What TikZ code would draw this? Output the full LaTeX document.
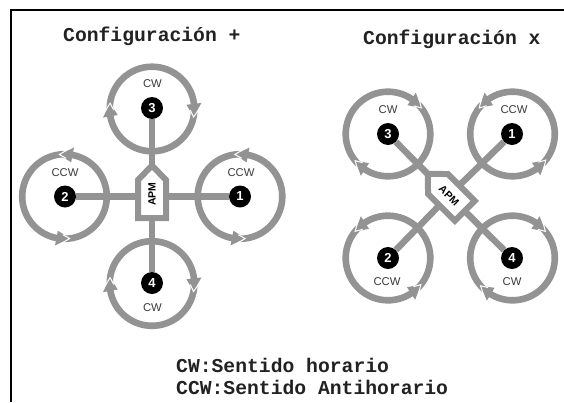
\documentclass[tikz,border=0pt]{standalone}
\usepackage{fontspec}
\setmainfont{Liberation Sans}
\newfontfamily\monob[BoldFont={Liberation Mono Bold}]{Liberation Mono}
\pgfdeclarelayer{bg}
\pgfsetlayers{bg,main}
\definecolor{rotorgray}{HTML}{939393}
\definecolor{labelgray}{HTML}{3A3A3A}
\definecolor{titleink}{HTML}{222222}
\tikzset{
  motor/.style={circle,fill=black,text=white,minimum size=22pt,inner sep=0pt,font=\fontsize{13}{13}\selectfont\bfseries},
  armline/.style={draw=rotorgray,line width=6.5pt},
  spin/.style={font=\fontsize{11.3}{12}\selectfont,text=labelgray,inner sep=0pt},
  apmtext/.style={font=\fontsize{10.5}{11}\selectfont\bfseries,text=black,inner sep=0pt},
  heading/.style={font=\monob\bfseries\fontsize{19.7}{20}\selectfont,text=titleink,inner sep=0pt,anchor=base west},
  boxline/.style={draw=rotorgray,line width=6pt,fill=white,miter limit=4},
  frameline/.style={draw=black,line width=2pt},
  notch/.style={draw=white,line width=1pt}
}
% rotor: centre x, centre y, first tip angle, second tip angle, direction (+1 ccw, -1 cw)
\newcommand{\rotorring}[5]{%
  \begin{scope}[shift={(#1,#2)},y=1pt]
    \pgfmathsetmacro{\sgn}{#5}
    \pgfmathsetmacro{\aS}{#3-\sgn*8}
    \pgfmathsetmacro{\aE}{#4-\sgn*17}
    \pgfmathsetmacro{\bS}{#4-\sgn*8}
    \pgfmathsetmacro{\bE}{#3+\sgn*360-\sgn*17}
    \pgfmathsetmacro{\hA}{#4-\sgn*18}
    \pgfmathsetmacro{\hB}{#3-\sgn*18}
    \pgfmathsetmacro{\mA}{#4-\sgn*9.5}
    \pgfmathsetmacro{\mB}{#3-\sgn*9.5}
    \draw[rotorgray,line width=6.6pt] (\aS:42.3) arc[start angle=\aS,end angle=\aE,radius=42.3];
    \draw[rotorgray,line width=6.6pt] (\bS:42.3) arc[start angle=\bS,end angle=\bE,radius=42.3];
    \fill[rotorgray] (#4:42.3) -- (\hA:49.8) -- (\hA:34.8) -- cycle;
    \fill[rotorgray] (#3:42.3) -- (\hB:49.8) -- (\hB:34.8) -- cycle;
    \draw[notch] (\mA:46.3) -- (#4:42.3) -- (\mA:38.3);
    \draw[notch] (\mB:46.3) -- (#3:42.3) -- (\mB:38.3);
  \end{scope}}
\newcommand{\apmbox}[3]{%
  \begin{scope}[shift={(#1,#2)},y=1pt,rotate=#3]
    \draw[boxline,line join=miter] (0,31.5) -- (14,17) -- (14,-21) -- (-14,-21) -- (-14,17) -- cycle;
  \end{scope}}
\begin{document}
\begin{tikzpicture}[x=1pt,y=-1pt]
\useasboundingbox (0,0) rectangle (564,402);
\begin{pgfonlayer}{bg}
\fill[white] (0,0) rectangle (564,402);
\end{pgfonlayer}
\coordinate (frameTR) at (564,9.5);
\coordinate (frameTL) at (10.5,9.5);
\coordinate (frameBL) at (10.5,402);
\draw[frameline] (frameTR) -- (frameTL) -- (frameBL);

\node[heading] (titleplus) at (63,41) {Configuración +};
\node[heading] (titlex) at (363,44) {Configuración x};
\node[heading] (legendone) at (176,372) {CW:Sentido horario};
\node[heading] (legendtwo) at (176,394) {CCW:Sentido Antihorario};

% plus configuration
\begin{pgfonlayer}{bg}
\rotorring{152}{109}{172}{-11}{-1}
\rotorring{240}{196.5}{-83}{97}{1}
\rotorring{64.5}{196.5}{-83}{97}{1}
\rotorring{152}{283.5}{172}{-11}{-1}
\end{pgfonlayer}
\node[motor] (pa) at (240,196.5) {1};
\node[motor] (pb) at (65,196.5) {2};
\node[motor] (pc) at (152,108) {3};
\node[motor] (pd) at (152,283) {4};
\node[spin] (pla) at (241,173) {CCW};
\node[spin] (plb) at (65,173) {CCW};
\node[spin] (plc) at (152.5,84) {CW};
\node[spin] (pld) at (152.5,308) {CW};
\apmbox{152}{197}{0}
\node[apmtext,rotate=90] (papm) at (152,196.5) {\kern5pt APM};
\begin{pgfonlayer}{bg}
\draw[armline] (papm) -- (pa);
\draw[armline] (papm) -- (pb);
\draw[armline] (papm) -- (pc);
\draw[armline] (papm) -- (pd);
\end{pgfonlayer}

% x configuration
\begin{pgfonlayer}{bg}
\rotorring{388}{134}{219}{38}{-1}
\rotorring{512.5}{134}{-38}{142}{1}
\rotorring{388}{258}{-39}{141}{1}
\rotorring{512.5}{258}{221}{39}{-1}
\end{pgfonlayer}
\node[motor] (xa) at (512,134) {1};
\node[motor] (xb) at (388,258) {2};
\node[motor] (xc) at (388,134) {3};
\node[motor] (xd) at (512,258) {4};
\node[spin] (xla) at (514,110) {CCW};
\node[spin] (xlb) at (387,282) {CCW};
\node[spin] (xlc) at (388,110) {CW};
\node[spin] (xld) at (512,282) {CW};
\apmbox{450}{196}{45}
\node[apmtext,rotate=-45] (xapm) at (449,195.5) {APM};
\begin{pgfonlayer}{bg}
\draw[armline] (xapm) -- (xa);
\draw[armline] (xapm) -- (xb);
\draw[armline] (xapm) -- (xc);
\draw[armline] (xapm) -- (xd);
\end{pgfonlayer}
\end{tikzpicture}
\end{document}
